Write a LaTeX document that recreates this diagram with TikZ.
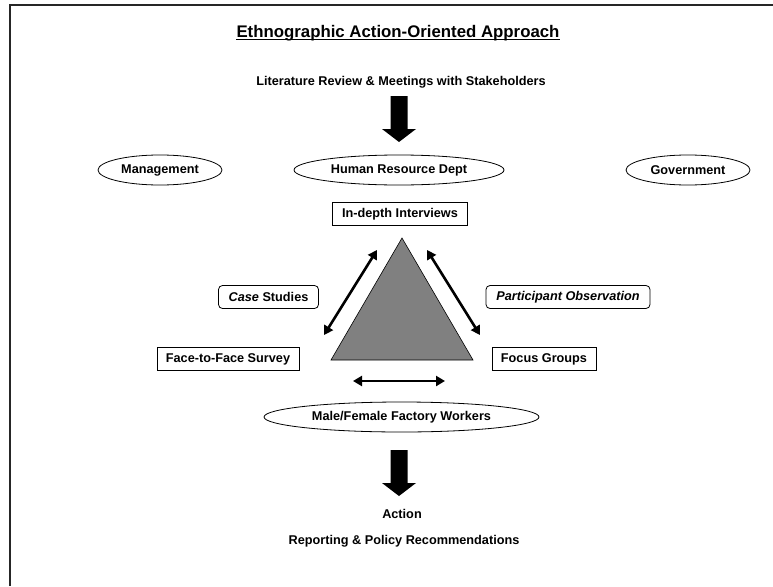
\documentclass[tikz,border=0pt]{standalone}
\usepackage{fontspec}
\setmainfont{Liberation Sans}
\usepackage{tikz}
\usetikzlibrary{arrows.meta, shapes.geometric}

\newcommand{\bigdownarrow}[1]{%
  \fill[shift={(#1)}] (-8.5,0) -- (8.5,0) -- (8.5,33) -- (17,33) -- (0,46) -- (-17,33) -- (-8.5,33) -- cycle;}

\begin{document}
\begin{tikzpicture}[x=1pt, y=-1pt,
    lbl/.style={font=\fontsize{12.7}{15}\selectfont\bfseries, inner sep=0pt},
    oval/.style={lbl, draw, ellipse, line width=0.8pt, minimum height=30pt},
    sqbox/.style={lbl, draw, line width=0.8pt, minimum height=23pt},
    rndbox/.style={sqbox, rounded corners=4pt},
    dblarrow/.style={line width=2.6pt, {Triangle[length=9pt,width=10pt]}-{Triangle[length=9pt,width=10pt]}}]
    \useasboundingbox (0,0) rectangle (773,586);
    % frame
    \draw[line width=1.5pt, black!85] (10,586) -- (10,5) -- (773,5);

    % heading
    \node[font=\fontsize{16.8}{20}\selectfont\bfseries, inner sep=0pt] (title) at (398,33) {Ethnographic Action-Oriented Approach};
    \draw[line width=1.2pt] ([yshift=-2.5pt]title.base west) -- ([yshift=-2.5pt]title.base east);
    \node[lbl] (litreview) at (401,82) {Literature Review \& Meetings with Stakeholders};
    \coordinate (arrowA) at (399,96);
    \bigdownarrow{arrowA}

    % stakeholders
    \node[oval, minimum width=124pt] (mgmt) at (160,170) {Management};
    \node[oval, minimum width=210pt] (hrdept) at (399,170) {Human Resource Dept};
    \node[oval, minimum width=124pt] (govt) at (688,170) {Government};

    % triangle of methods
    \node[sqbox, minimum width=135pt] (interviews) at (400,214) {In-depth Interviews};
    \coordinate (apex) at (402,238);
    \coordinate (baseL) at (331,360);
    \coordinate (baseR) at (473,360);
    \filldraw[fill=gray, draw=black, line width=0.6pt] (apex) -- (baseL) -- (baseR) -- cycle;

    \node[rndbox, minimum width=100pt] (casestudy) at (268.5,297) {\textit{Case} Studies};
    \node[rndbox, minimum width=164pt] (partobs) at (568,297) {\textit{Participant Observation}};
    \node[sqbox, minimum width=142pt] (survey) at (228,359) {Face-to-Face Survey};
    \node[sqbox, minimum width=104pt] (focus) at (544,359) {Focus Groups};

    \coordinate (leftA) at (377,250);
    \coordinate (leftB) at (324,335);
    \coordinate (rightA) at (427,250);
    \coordinate (rightB) at (480,335);
    \coordinate (baseA) at (353,381);
    \coordinate (baseB) at (445,381);
    \draw[dblarrow] (leftA) -- (leftB);
    \draw[dblarrow] (rightA) -- (rightB);
    \draw[dblarrow] (baseA) -- (baseB);

    % workers and outcome
    \node[oval, minimum width=275pt] (workers) at (401.5,417) {Male/Female Factory Workers};
    \coordinate (arrowB) at (399,450);
    \bigdownarrow{arrowB}
    \node[lbl] (action) at (402,514) {Action};
    \node[lbl] (reporting) at (404,541) {Reporting \& Policy Recommendations};
\end{tikzpicture}
\end{document}
